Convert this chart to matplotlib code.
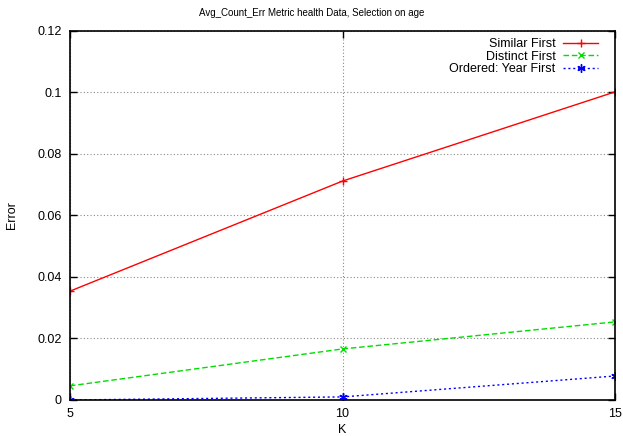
import matplotlib
matplotlib.use("Agg")
import matplotlib.pyplot as plt

plt.rcParams['font.family'] = ['Liberation Sans', 'DejaVu Sans']
plt.rcParams['font.size'] = 9

k = [5, 10, 15]
similar_first = [0.0354, 0.0712, 0.1002]
distinct_first = [0.0046, 0.0166, 0.0254]
ordered_year_first = [0.0, 0.001, 0.0078]

yticks = [0, 0.02, 0.04, 0.06, 0.08, 0.1, 0.12]
ytick_labels = ['0', '0.02', '0.04', '0.06', '0.08', '0.1', '0.12']

fig = plt.figure(figsize=(6.23, 4.36), dpi=100)
ax = fig.add_axes([0.1124, 0.0826, 0.8748, 0.8463])

ax.plot(k, similar_first, color='#ff0000', lw=1, marker='+', ms=6,
        label='Similar First')
ax.plot(k, distinct_first, color='#00dd00', lw=1, ls=(0, (4, 2)), marker='x', ms=4,
        label='Distinct First')
ax.plot(k, ordered_year_first, color='#0000ff', lw=1, ls=(0, (1.5, 2)), marker=(6, 2, 0), ms=6,
        label='Ordered: Year First')

ax.set_xlim(5, 15)
ax.set_ylim(0, 0.12)
ax.set_xticks(k)
ax.set_yticks(yticks)
ax.set_yticklabels(ytick_labels)
ax.tick_params(direction='in', top=True, right=True, length=5, width=1, pad=6)
ax.grid(True, color='#888888', ls=(0, (1, 2)), lw=0.8)
for s in ax.spines.values():
    s.set_linewidth(1.2)

ax.set_xlabel('K', labelpad=3)
ax.set_ylabel('Error', labelpad=14)
# gnuplot centres the title on the whole canvas, not on the plot area
fig.text(0.5, 1 - 13 / 436, 'Avg_Count_Err Metric health Data, Selection on age',
         fontsize=7, ha='center', va='center')

ax.legend(loc='upper right', bbox_to_anchor=(0.969, 0.981), frameon=False,
          markerfirst=False, handlelength=2.8, labelspacing=0.05, borderaxespad=0,
          borderpad=0, handletextpad=0.6, fontsize=9)

fig.savefig('out.png', dpi=100)
